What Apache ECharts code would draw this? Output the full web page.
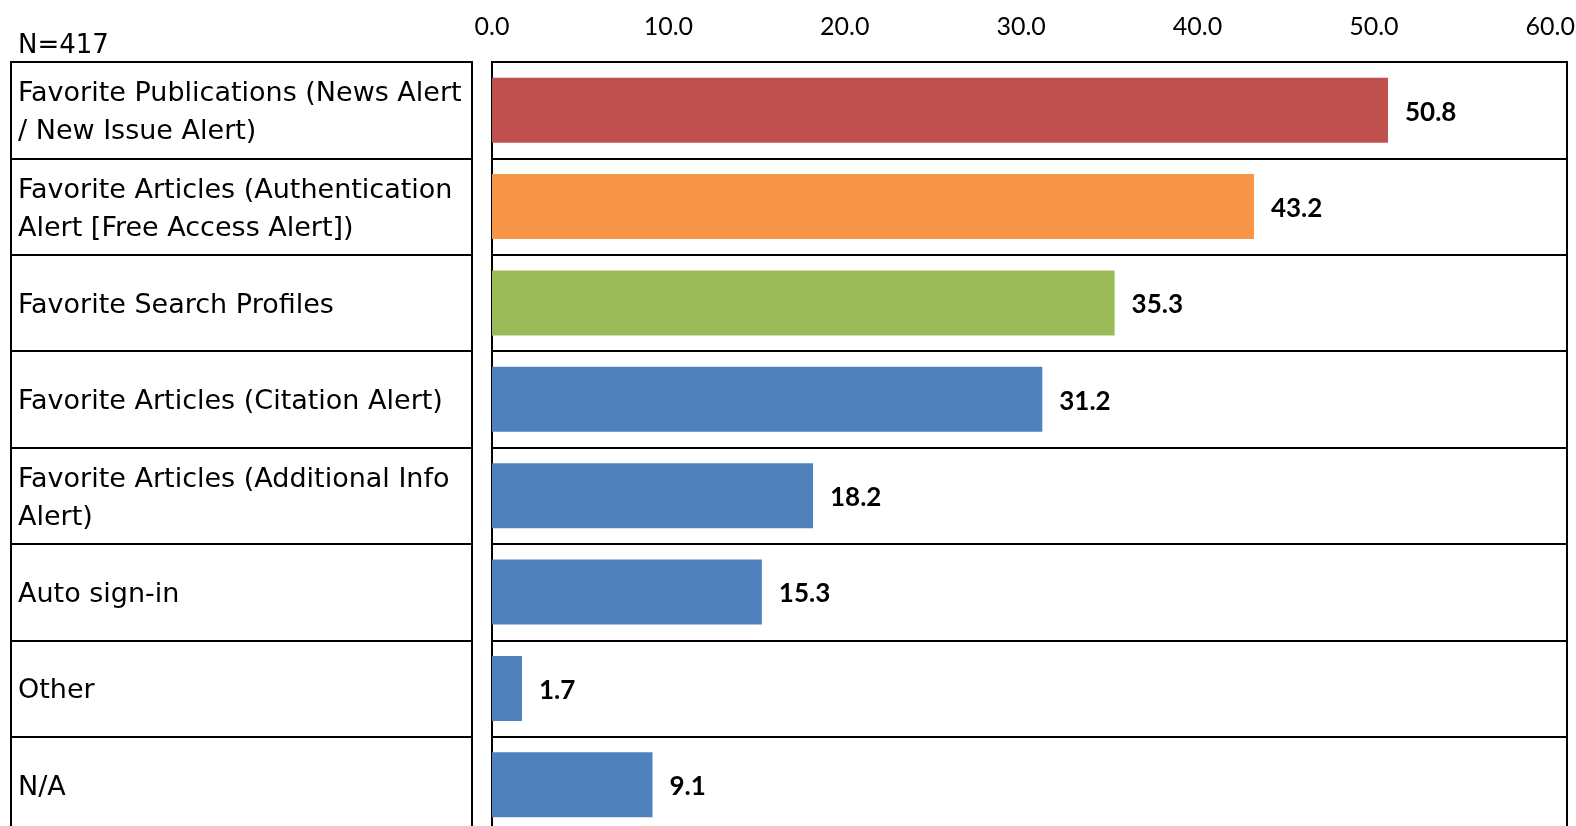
<!DOCTYPE html>
<html>
<head>
<meta charset="utf-8">
<title>Alert features</title>
<script src="https://cdn.jsdelivr.net/npm/echarts@6/dist/echarts.min.js"></script>
<style>
  html, body { margin: 0; padding: 0; background: #fff; }
  #chart { width: 1576px; height: 826px; }
</style>
</head>
<body>
<div id="chart"></div>
<script>
// data
const sampleLabel = 'N=417'
const categories = [
  'Favorite Publications (News Alert\n/ New Issue Alert)',
  'Favorite Articles (Authentication\nAlert [Free Access Alert])',
  'Favorite Search Profiles',
  'Favorite Articles (Citation Alert)',
  'Favorite Articles (Additional Info\nAlert)',
  'Auto sign-in',
  'Other',
  'N/A'
]
const values = [50.8, 43.2, 35.3, 31.2, 18.2, 15.3, 1.7, 9.1]
const tickValues = [0, 10, 20, 30, 40, 50, 60]

// bar colours, one per row
const barColors = ['#C0504D', '#F79646', '#9BBB59', '#4F81BD', '#4F81BD', '#4F81BD', '#4F81BD', '#4F81BD']

const chart = echarts.init(document.getElementById('chart'))
const lineStyle = { color: '#000', width: 2 }
const rowsHeight = 771 // 8 rows, last one runs off the bottom

const option = {
  animation: false,
  title: {
    text: sampleLabel,
    left: 13,
    top: 28,
    textStyle: { fontFamily: 'DejaVu Sans', fontSize: 26, fontWeight: 'normal', color: '#000' }
  },
  grid: [
    // label table on the left (lines only)
    { left: 11, top: 62, width: 461, height: rowsHeight, outerBoundsMode: 'none', show: true, borderColor: '#000', borderWidth: 2 },
    // bars (frame runs a little past 60)
    { left: 492, top: 62, width: 1075, height: rowsHeight, outerBoundsMode: 'none', show: true, borderColor: '#000', borderWidth: 2 },
    // row texts, nudged down a bit
    { left: 11, top: 65, width: 461, height: rowsHeight, outerBoundsMode: 'none' }
  ],
  xAxis: [
    { gridIndex: 0, type: 'value', show: false },
    {
      gridIndex: 1,
      type: 'value',
      position: 'top',
      min: tickValues[0],
      max: 60.95,
      interval: 10,
      axisLine: { show: false },
      axisTick: { show: false },
      splitLine: { show: false },
      axisLabel: {
        showMaxLabel: false,
        margin: 23,
        fontFamily: 'Lato',
        fontSize: 25,
        color: '#000',
        formatter: v => v.toFixed(1)
      }
    },
    { gridIndex: 2, type: 'value', show: false }
  ],
  yAxis: [
    {
      gridIndex: 0,
      type: 'category',
      inverse: true,
      data: categories,
      axisLine: { show: false },
      axisTick: { show: false },
      axisLabel: { show: false },
      splitLine: { show: true, lineStyle: lineStyle }
    },
    {
      gridIndex: 1,
      type: 'category',
      inverse: true,
      data: categories,
      axisLine: { show: true, lineStyle: lineStyle },
      axisTick: { show: false },
      axisLabel: { show: false },
      splitLine: { show: true, lineStyle: lineStyle }
    },
    {
      gridIndex: 2,
      type: 'category',
      inverse: true,
      data: categories,
      axisLine: { show: false },
      axisTick: { show: false },
      splitLine: { show: false },
      axisLabel: {
        inside: true,
        margin: 7,
        fontFamily: 'DejaVu Sans',
        fontSize: 27,
        lineHeight: 38,
        color: '#000'
      }
    }
  ],
  series: [
    {
      type: 'bar',
      xAxisIndex: 1,
      yAxisIndex: 1,
      barWidth: 65,
      data: values.map((v, i) => ({ value: v, itemStyle: { color: barColors[i] } })),
      label: {
        show: true,
        position: 'right',
        distance: 17,
        offset: [0, 2],
        fontFamily: 'Lato',
        fontWeight: 'bold',
        fontSize: 26,
        color: '#000',
        formatter: p => p.value.toFixed(1)
      }
    }
  ]
}

chart.setOption(option)
</script>
</body>
</html>
